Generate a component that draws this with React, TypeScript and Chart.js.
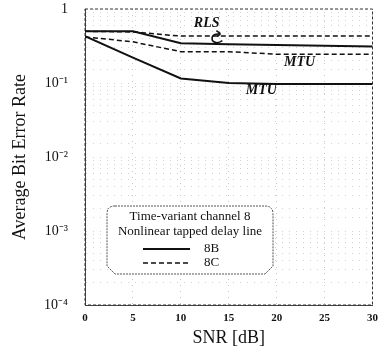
import React, { useEffect, useRef } from "react";
import { Chart, registerables } from "chart.js";

Chart.register(...registerables);

const snr = [0, 5, 10, 15, 20, 25, 30];
const rls8B = [0.5, 0.5, 0.345, 0.335, 0.325, 0.318, 0.312];
const rls8C = [0.5, 0.49, 0.43, 0.43, 0.43, 0.43, 0.43];
const mtu8C = [0.42, 0.36, 0.265, 0.265, 0.245, 0.245, 0.245];
const mtu8B = [0.43, 0.22, 0.115, 0.1, 0.097, 0.097, 0.097];
const yTickLabels: Record<string, string> = {
  "1": "1",
  "0.1": "10\u207B\u00B9",
  "0.01": "10\u207B\u00B2",
  "0.001": "10\u207B\u00B3",
  "0.0001": "10\u207B\u2074",
};
const legendTitle1 = "Time-variant channel 8";
const legendTitle2 = "Nonlinear tapped delay line";
const legendNames = ["8B", "8C"];
const annotations = [
  { text: "RLS", x: 12.7, y: 0.63 },
  { text: "MTU", x: 22.4, y: 0.192 },
  { text: "MTU", x: 18.4, y: 0.08 },
];

const SERIF = "'Liberation Serif', 'Times New Roman', serif";

const overlay = {
  id: "overlay",
  afterDatasetsDraw(chart: any) {
    const { ctx, chartArea, scales } = chart;
    const xs = scales.x;
    const ys = scales.y;
    ctx.save();
    // annotations
    ctx.fillStyle = "#111";
    ctx.font = `bold italic 14px ${SERIF}`;
    ctx.textAlign = "center";
    ctx.textBaseline = "middle";
    for (const a of annotations) {
      ctx.fillText(a.text, xs.getPixelForValue(a.x), ys.getPixelForValue(a.y));
    }
    // curl arrow from RLS to line
    const ax = xs.getPixelForValue(13.5);
    const ay = ys.getPixelForValue(0.41);
    ctx.strokeStyle = "#111";
    ctx.lineWidth = 1.5;
    ctx.beginPath();
    ctx.moveTo(ax + 6, ay - 4);
    ctx.quadraticCurveTo(ax - 4, ay - 4, ax - 2, ay + 3);
    ctx.quadraticCurveTo(ax + 2, ay + 7, ax + 8, ay + 3);
    ctx.stroke();
    ctx.beginPath();
    ctx.moveTo(ax + 6, ay - 4);
    ctx.lineTo(ax + 2, ay - 7);
    ctx.moveTo(ax + 6, ay - 4);
    ctx.lineTo(ax + 3, ay - 1);
    ctx.stroke();

    // legend box
    const bx = chartArea.left + 22;
    const by = chartArea.top + 197;
    const bw = 166;
    const bh = 68;
    const r = 8;
    ctx.fillStyle = "#fff";
    ctx.strokeStyle = "#555";
    ctx.lineWidth = 1;
    ctx.setLineDash([2, 1]);
    ctx.beginPath();
    ctx.moveTo(bx + r, by);
    ctx.lineTo(bx + bw - r, by);
    ctx.quadraticCurveTo(bx + bw, by, bx + bw, by + r);
    ctx.lineTo(bx + bw, by + bh - r);
    ctx.lineTo(bx + bw - r, by + bh);
    ctx.lineTo(bx + r, by + bh);
    ctx.lineTo(bx, by + bh - r);
    ctx.lineTo(bx, by + r);
    ctx.quadraticCurveTo(bx, by, bx + r, by);
    ctx.closePath();
    ctx.fill();
    ctx.stroke();
    ctx.setLineDash([]);
    ctx.fillStyle = "#111";
    ctx.font = `13px ${SERIF}`;
    ctx.textAlign = "center";
    ctx.fillText(legendTitle1, bx + bw / 2, by + 11);
    ctx.fillText(legendTitle2, bx + bw / 2, by + 26);
    const dashes = [[], [5, 3]];
    legendNames.forEach((name, i) => {
      const yy = by + 43 + i * 14;
      ctx.strokeStyle = "#111";
      ctx.lineWidth = i === 0 ? 2 : 1.5;
      ctx.setLineDash(dashes[i]);
      ctx.beginPath();
      ctx.moveTo(bx + 36, yy);
      ctx.lineTo(bx + 83, yy);
      ctx.stroke();
      ctx.setLineDash([]);
      ctx.textAlign = "left";
      ctx.fillText(name, bx + 97, yy);
    });
    ctx.restore();
  },
};

export default function App() {
  const ref = useRef<HTMLCanvasElement>(null);
  useEffect(() => {
    document.body.style.margin = "0";
    const solid = { borderColor: "#111", borderWidth: 2, pointRadius: 0, fill: false, tension: 0 };
    const dashed = { borderColor: "#111", borderWidth: 1.5, borderDash: [5, 3], pointRadius: 0, fill: false, tension: 0 };
    const chart = new Chart(ref.current!, {
      type: "line",
      data: {
        labels: snr,
        datasets: [
          { label: "8B RLS", data: snr.map((x, i) => ({ x, y: rls8B[i] })), ...solid },
          { label: "8C RLS", data: snr.map((x, i) => ({ x, y: rls8C[i] })), ...dashed },
          { label: "8C MTU", data: snr.map((x, i) => ({ x, y: mtu8C[i] })), ...dashed },
          { label: "8B MTU", data: snr.map((x, i) => ({ x, y: mtu8B[i] })), ...solid },
        ],
      },
      options: {
        animation: false,
        responsive: false,
        layout: { padding: { left: 0, right: 9, top: 0, bottom: 0 } },
        plugins: { legend: { display: false }, tooltip: { enabled: false } },
        scales: {
          x: {
            type: "linear",
            min: 0,
            max: 30,
            ticks: { stepSize: 5, color: "#111", font: { family: SERIF, size: 11, weight: "bold" }, padding: 7 },
            grid: { color: "#c8c8c8", lineWidth: 1, drawTicks: false },
            border: { display: true, color: "#444", dash: [1, 5] },
            title: { display: true, text: "SNR [dB]", color: "#111", font: { family: SERIF, size: 18 }, padding: { top: 0, bottom: -3 } },
            afterFit(s: any) { s.height = 41; },
          },
          y: {
            type: "logarithmic",
            min: 0.0001,
            max: 1,
            ticks: {
              color: "#111",
              font: { family: SERIF, size: 14 },
              padding: 17,
              autoSkip: false,
              callback: (v: any) => yTickLabels[String(v)] ?? "",
            },
            grid: { color: "#d2d2d2", lineWidth: 1, drawTicks: false },
            border: { display: true, color: "#444", dash: [1, 6] },
            title: { display: true, text: "Average Bit Error Rate", color: "#111", font: { family: SERIF, size: 18 }, padding: { top: 9, bottom: 0 } },
            afterFit(s: any) {
              s.width = 85;
              s.paddingTop = 9;
              s.paddingBottom = 0;
            },
          },
        },
      },
      plugins: [
        overlay,
        {
          id: "frame",
          beforeDatasetsDraw(chart: any) {
            const { ctx, chartArea } = chart;
            ctx.save();
            ctx.strokeStyle = "#333";
            ctx.setLineDash([3, 2]);
            ctx.lineWidth = 1;
            ctx.strokeRect(chartArea.left, chartArea.top, chartArea.right - chartArea.left, chartArea.bottom - chartArea.top);
            ctx.restore();
          },
        },
      ],
    } as any);
    return () => chart.destroy();
  }, []);
  return (
    <div style={{ position: "absolute", left: 0, top: 0, width: 385, height: 346, background: "#fff" }}>
      <canvas ref={ref} width={385} height={346} />
    </div>
  );
}
